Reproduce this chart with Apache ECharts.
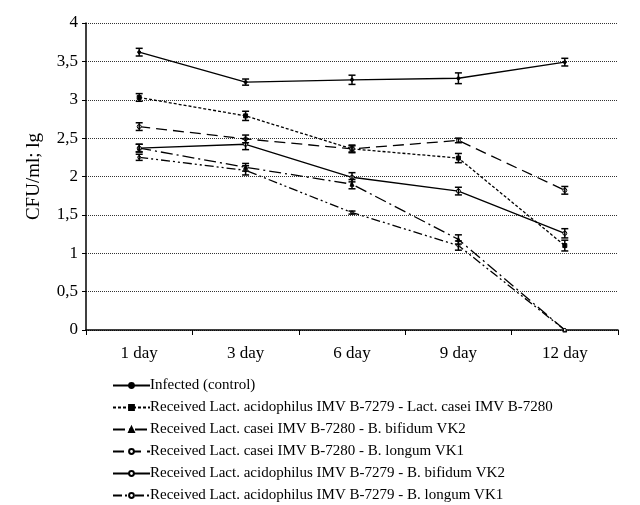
<!DOCTYPE html>
<html>
<head>
<meta charset="utf-8">
<script src="https://cdn.jsdelivr.net/npm/echarts@6/dist/echarts.min.js"></script>
<style>
  html, body { margin: 0; padding: 0; background: #fff; }
  #chart { width: 640px; height: 505px; }
</style>
</head>
<body>
<div id="chart"></div>
<script>
// categories on the x axis
const days = ['1 day', '3 day', '6 day', '9 day', '12 day']

// legend names
const names = [
  'Infected (control)',
  'Received Lact. acidophilus IMV B-7279 - Lact. casei IMV B-7280',
  'Received Lact. casei IMV B-7280 - B. bifidum VK2',
  'Received Lact. casei IMV B-7280 - B. longum VK1',
  'Received Lact. acidophilus IMV B-7279 - B. bifidum VK2',
  'Received Lact. acidophilus IMV B-7279 - B. longum VK1'
]

// values, lg CFU/ml
const infected = [3.62, 3.23, 3.26, 3.28, 3.49]
const acidCasei = [3.03, 2.79, 2.36, 2.24, 1.10]
const caseiBifidum = [2.37, 2.12, 1.90, 1.18, 0]
const caseiLongum = [2.65, 2.49, 2.36, 2.47, 1.82]
const acidBifidum = [2.37, 2.42, 1.99, 1.81, 1.26]
const acidLongum = [2.25, 2.08, 1.53, 1.10, 0]

// error (+/-)
const errInfected = [0.05, 0.04, 0.06, 0.07, 0.05]
const errAcidCasei = [0.05, 0.06, 0.05, 0.06, 0.07]
const errCaseiBifidum = [0.05, 0.05, 0.06, 0.06, 0]
const errCaseiLongum = [0.05, 0.05, 0.04, 0.03, 0.05]
const errAcidBifidum = [0.05, 0.07, 0.06, 0.05, 0.06]
const errAcidLongum = [0.04, 0.06, 0.02, 0.06, 0]

const serif = 'Liberation Serif'

const lines = [
  { data: infected, err: errInfected, dash: 'solid', symbol: 'circle', size: 3, fill: '#000' },
  { data: acidCasei, err: errAcidCasei, dash: [3, 2], symbol: 'rect', size: 4, fill: '#000' },
  { data: caseiBifidum, err: errCaseiBifidum, dash: [12, 4, 2, 4], symbol: 'triangle', size: 4, fill: '#000' },
  { data: caseiLongum, err: errCaseiLongum, dash: [11, 6], symbol: 'circle', size: 4, fill: '#fff' },
  { data: acidBifidum, err: errAcidBifidum, dash: 'solid', symbol: 'circle', size: 4, fill: '#fff' },
  { data: acidLongum, err: errAcidLongum, dash: [9, 3, 2, 3, 2, 3], symbol: 'circle', size: 3, fill: '#fff' }
]

const series = []
lines.forEach((l, i) => {
  series.push({
    name: names[i],
    type: 'line',
    data: l.data,
    symbol: l.symbol,
    symbolSize: l.size,
    itemStyle: { color: l.fill, borderColor: '#000', borderWidth: 1 },
    lineStyle: { color: '#000', width: 1.3, type: l.dash },
    z: 3
  })
  // error bars
  const errData = l.data.map((v, k) => [k, v - l.err[k], v + l.err[k]])
  series.push({
    type: 'custom',
    data: errData.filter((d, k) => l.err[k] > 0),
    renderItem: function(params, api) {
      const lo = api.coord([api.value(0), api.value(1)])
      const hi = api.coord([api.value(0), api.value(2)])
      const w = 3.5
      return {
        type: 'group',
        children: [
          { type: 'line', shape: { x1: lo[0], y1: lo[1], x2: hi[0], y2: hi[1] }, style: { stroke: '#000', lineWidth: 1.5 } },
          { type: 'line', shape: { x1: lo[0] - w, y1: lo[1], x2: lo[0] + w, y2: lo[1] }, style: { stroke: '#000', lineWidth: 1.5 } },
          { type: 'line', shape: { x1: hi[0] - w, y1: hi[1], x2: hi[0] + w, y2: hi[1] }, style: { stroke: '#000', lineWidth: 1.5 } }
        ]
      }
    },
    z: 4,
    silent: true
  })
})

const chart = echarts.init(document.getElementById('chart'))
chart.setOption({
  animation: false,
  textStyle: { fontFamily: serif },
  grid: { left: 86, right: 22, top: 23, bottom: 175 },
  legend: {
    data: names,
    orient: 'vertical',
    left: 112,
    top: 377,
    height: 200,
    padding: 0,
    itemWidth: 37,
    itemHeight: 6,
    itemGap: 5,
    textStyle: { fontFamily: serif, fontSize: 15, lineHeight: 17, color: '#000', padding: [0, 0, 0, -5] }
  },
  xAxis: {
    type: 'category',
    data: days,
    boundaryGap: true,
    axisLine: { lineStyle: { color: '#000', width: 1.5 } },
    axisTick: { show: true, length: 5, lineStyle: { color: '#000' } },
    axisLabel: { color: '#000', fontSize: 17, fontFamily: serif, margin: 15 }
  },
  yAxis: {
    type: 'value',
    min: 0,
    max: 4,
    interval: 0.5,
    name: 'CFU/ml; lg',
    nameLocation: 'middle',
    nameGap: 42,
    nameTextStyle: { color: '#000', fontSize: 19, fontFamily: serif },
    axisLine: { show: true, lineStyle: { color: '#000', width: 1.5 } },
    axisTick: { show: true, length: 4, lineStyle: { color: '#000' } },
    axisLabel: {
      color: '#000', fontSize: 17, fontFamily: serif, margin: 8,
      formatter: v => String(v).replace('.', ',')
    },
    splitLine: { lineStyle: { color: '#333', type: [1, 1], width: 1 } }
  },
  series: series
})
</script>
</body>
</html>
